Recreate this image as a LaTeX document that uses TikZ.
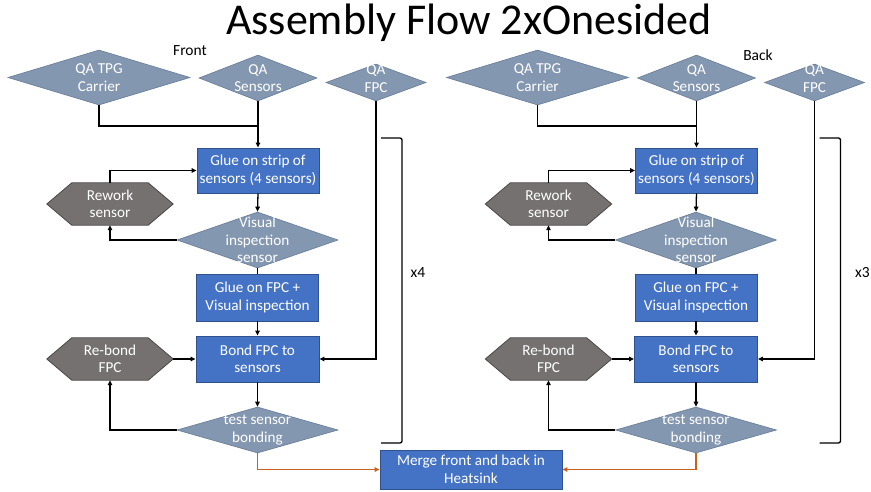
\documentclass[tikz,border=0pt]{standalone}
\usepackage{fontspec}
\setmainfont{Carlito}
\usetikzlibrary{shapes.geometric,arrows.meta,backgrounds}

\definecolor{diablue}{HTML}{8497B0}
\definecolor{diaedge}{HTML}{6C809C}
\definecolor{boxblue}{HTML}{4472C4}
\definecolor{boxedge}{HTML}{2F528F}
\definecolor{hexgrey}{HTML}{767171}
\definecolor{hexedge}{HTML}{4A4747}
\definecolor{mergeline}{HTML}{C8601E}

\tikzset{
  txt/.style={font=\fontsize{15.2}{17.5}\selectfont, text=white, align=center, inner sep=0pt},
  dia/.style={diamond, fill=diablue, draw=diaedge, line width=0.7pt, inner sep=0pt},
  proc/.style={rectangle, txt, fill=boxblue, draw=boxedge, line width=0.8pt},
  hexnode/.style={rectangle, txt},
  hexshape/.style={fill=hexgrey, draw=hexedge, line width=0.8pt},
  arr/.style={line width=1.3pt, -{Triangle[length=5pt,width=4.5pt]}},
  link/.style={line width=1.3pt},
  mergearr/.style={line width=1.3pt, draw=mergeline, -{Triangle[length=5pt,width=4.5pt]}},
  note/.style={font=\fontsize{15.5}{18}\selectfont, text=black, inner sep=0pt},
  bracket/.style={line width=1.3pt, rounded corners=2pt},
}

\begin{document}
\begin{tikzpicture}[x=1pt, y=-1pt]
  \useasboundingbox (0,0) rectangle (871,492);

  \node[font=\fontsize{44}{50}\selectfont, inner sep=0pt] (title) at (469,23) {Assembly Flow 2xOnesided};
  \node[note] (front) at (190,51) {Front};
  \node[note] (back) at (758,55) {Back};
  \node[note] (rep4) at (418,273) {x4};
  \node[note, anchor=west] (rep3) at (855,273) {x3};

  % one assembly line per side
  \foreach \s/\dx in {L/0, R/438.5} {
    \begin{scope}[xshift=\dx]
      \node[dia, minimum width=182pt, minimum height=55pt,
            label={[txt]center:QA TPG\\Carrier}] (car\s) at (99,77.5) {};
      \node[dia, minimum width=118pt, minimum height=46pt,
            label={[txt]center:QA\\Sensors}] (sen\s) at (258,78) {};
      \node[dia, minimum width=100pt, minimum height=37pt,
            label={[txt, yshift=4pt]center:QA\\FPC}] (fpc\s) at (376,82.5) {};

      \node[proc, minimum width=122pt, minimum height=45pt] (glue\s) at (258,170.5)
        {Glue on strip of\\sensors (4 sensors)};
      \node[hexnode, minimum width=126pt, minimum height=42pt] (rew\s) at (110,204)
        {Rework\\sensor};
      \node[dia, minimum width=161pt, minimum height=56pt,
            label={[txt]center:Visual\\inspection\\sensor}] (vis\s) at (257.5,240) {};
      \node[proc, minimum width=122pt, minimum height=47pt] (gfpc\s) at (257.5,297.5)
        {Glue on FPC +\\Visual inspection};
      \node[proc, minimum width=123pt, minimum height=46pt] (bond\s) at (257.5,359)
        {Bond FPC to\\sensors};
      \node[hexnode, minimum width=126pt, minimum height=42pt] (reb\s) at (110,359)
        {Re-bond\\FPC};
      \node[dia, minimum width=161pt, minimum height=46pt,
            label={[txt]center:test sensor\\bonding}] (test\s) at (257.5,430) {};

      % hexagon outlines behind the rework nodes
      \begin{scope}[on background layer]
        \foreach \h in {rew\s, reb\s} {
          \path[hexshape] (\h.west) -- ([xshift=25pt]\h.north west)
            -- ([xshift=-25pt]\h.north east) -- (\h.east)
            -- ([xshift=-25pt]\h.south east) -- ([xshift=25pt]\h.south west) -- cycle;
        }
      \end{scope}

      \coordinate (join\s) at (258,126);
      \draw[link] (car\s.south) |- (join\s);
      \draw[arr] (sen\s.south) -- (glue\s.north);
      \draw[arr] (rew\s.north) |- (glue\s.west);
      \draw[arr] (glue\s.south) -- (vis\s.north);
      \draw[arr] (vis\s.west) -| (rew\s.south);
      \draw[link] (vis\s.south) -- (gfpc\s.north);
      \draw[arr] (gfpc\s.south) -- (bond\s.north);
      \draw[arr] (reb\s.east) -- (bond\s.west);
      \draw[arr] (bond\s.south) -- (test\s.north);
      \draw[arr] (test\s.west) -| (reb\s.south);
      \draw[arr] (fpc\s.south) |- (bond\s.east);

      % repetition bracket
      \draw[bracket] (381,138) -- (402,138) -- (402,443) -- (381,443);
    \end{scope}
  }

  \node[proc, minimum width=182pt, minimum height=39pt] (merge) at (471,469.5)
    {Merge front and back in\\Heatsink};
  \draw[mergearr] (testL.south) |- (merge.west);
  \draw[mergearr] (testR.south) |- (merge.east);
\end{tikzpicture}
\end{document}
